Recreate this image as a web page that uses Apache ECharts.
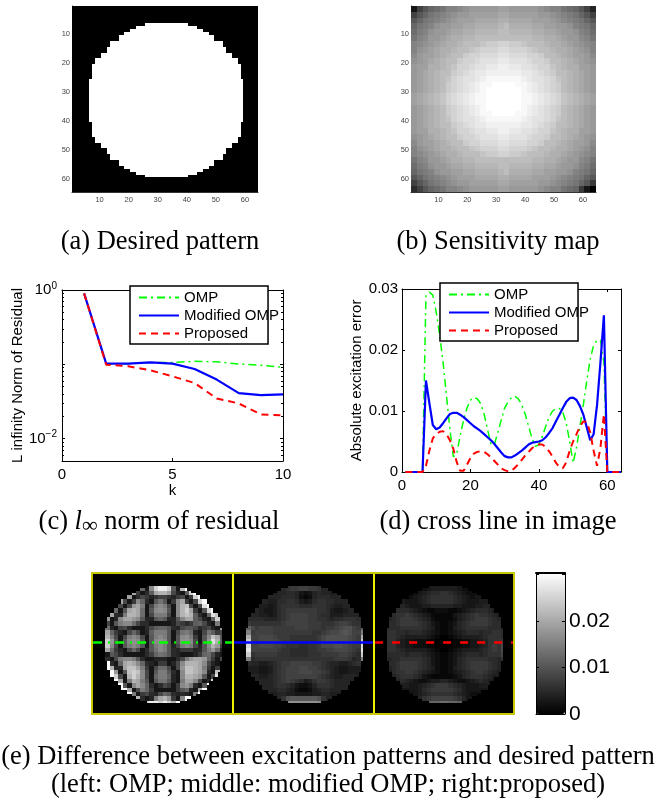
<!DOCTYPE html>
<html><head><meta charset="utf-8">
<script src="https://cdn.jsdelivr.net/npm/echarts@6/dist/echarts.min.js"></script>
<style>html,body{margin:0;padding:0;background:#fff}#c{width:657px;height:803px}</style></head>
<body><div id="c"></div>
<script>
// ---------- data ----------
const seriesNames = ['OMP', 'Modified OMP', 'Proposed'];
const kValues = [1,2,3,4,5,6,7,8,9,10];
const residualOmp = [.90,.102,.102,.106,.106,.1097,.108,.101,.097,.091];
const residualMod = [.90,.102,.102,.106,.102,.0866,.0623,.0409,.0385,.0393];
const residualPro = [.90,.099,.094,.083,.069,.056,.0347,.0297,.0212,.0205];

const crossX = [1,2,3,4,5,6,7,8,9,10,11,12,13,14,15,16,17,18,19,20,21,22,23,24,25,26,27,28,29,30,31,32,33,34,35,36,37,38,39,40,41,42,43,44,45,46,47,48,49,50,51,52,53,54,55,56,57,58,59,60,61,62,63,64];
const crossOmp = [0,0,0,0,0,0,.029,.0295,.029,.0262,.0225,.018,.0125,.007,.0025,.003,.006,.0085,.0105,.0118,.0122,.012,.0112,.0095,.007,.0045,.0045,.0065,.0085,.0105,.0115,.0122,.0124,.012,.011,.0095,.0075,.0055,.0042,.0045,.0058,.0075,.009,.01,.0104,.0104,.0098,.008,.005,.0015,.004,.0075,.011,.015,.0185,.0208,.0216,.0216,.018,0,0,0,0,0];
const crossMod = [0,0,0,0,0,0,.015,.0113,.0077,.007,.0073,.008,.0088,.0095,.0097,.0097,.0094,.009,.0085,.008,.0075,.0071,.0067,.0062,.0057,.0052,.0046,.0039,.0032,.0026,.0024,.0024,.0027,.0031,.0035,.004,.0045,.0048,.0049,.005,.0052,.0057,.0064,.0072,.0083,.0094,.0105,.0115,.0121,.0122,.0118,.0108,.0094,.0073,.0052,.0062,.011,.018,.0257,0,0,0,0,0];
const crossPro = [0,0,0,0,0,0,.001,.0035,.0055,.0062,.0066,.0067,.0062,.0052,.0038,.0016,.0002,.0002,.0012,.0023,.003,.0033,.0034,.0033,.0029,.0024,.0018,.0012,.0006,.0003,.0001,.0002,.0007,.0013,.002,.0027,.0033,.0039,.0043,.0045,.0045,.0041,.0034,.0025,.0015,.0008,.0006,.0016,.0035,.005,.0062,.0075,.0083,.0082,.0065,.0035,.001,.004,.0095,0,0,0,0,0];

const imageCells = [1,2,3,4,5,6,7,8,9,10,11,12,13,14,15,16,17,18,19,20,21,22,23,24,25,26,27,28,29,30,31,32,33,34,35,36,37,38,39,40,41,42,43,44,45,46,47,48,49,50,51,52,53,54,55,56,57,58,59,60,61,62,63,64];

// first and last white cell per image row of the desired pattern (row 7 to row 59)
const desiredFirst = [25,22,20,18,16,16,13,13,12,12,10,10,8,8,7,7,7,7,7,6,6,6,6,6,6,6,6,6,6,6,6,6,6,6,7,7,7,7,7,8,8,10,10,12,12,13,13,16,16,18,20,22,25];
const desiredLast  = [39,42,44,46,48,48,51,51,52,52,54,54,56,56,57,57,57,57,57,58,58,58,58,58,58,58,58,58,58,58,58,58,58,58,57,57,57,57,57,56,56,54,54,52,52,51,51,48,48,46,44,42,39];
const desiredStartRow = 6;

// grey levels in base 36 (0 black … z white); each character covers 2×2 image cells
const sensitivityRows = [
'39cefgiijklllllmmlllllkjiigfec95','9ceghijkllmmmmmnnmmmmmllkjihgec9','ceghijklmmmnnnnoonnnnmmmlkjihgec','eghikllmmnnoooopqoooonnmmllkihge',
'fhikllmnnooppppqqppppoonnmllkihf','gijllmnooppqqqqqqqqqqppoonmlljig','ijklmnoopqqqrssttssrqqqpoonmlkji','iklmnoopqqrstttuutttsrqqpoonmlki',
'jlmmnopqqsttuuuvvuuuttsqqponmmlj','klmnopqqsttuvvvwwvvvuttsqqponmlk','lmmoopqrttuvvwwxxwwvvuttrqpoomml','lmnopqqstuvwwxxxxxxwwvutsqqponml',
'lmnopqrtuvvwxyyyyyyxwvvutrqponml','lmnopqstuvwxyyzzzzyyxwvutsqponml','lmnopqstuvwxyzzzzzzyxwvutsqponml','mnopqrtuvwxyyzzzzzzyyxwvutrqponm',
'mnopqrtuvwxyyzzzzzzyyxwvutrqponm','lmnopqstuvwxyzzzzzzyxwvutsqponml','lmnopqstuvwxyyzzzzyyxwvutsqponml','lmnopqrtuvvwxyyyyyyxwvvutrqponml',
'lmnopqqstuvwwxxxxxxwwvutsqqponml','lmmoopqrttuvvwwxxwwvvuttrqpoomml','klmnopqqsttuvvvwwvvvuttsqqponmlk','jlmmnopqqsttuuuvvuuuttsqqponmmlj',
'iklmnoopqqrstttuutttsrqqpoonmlki','ijklmnoopqqqrssttssrqqqpoonmlkji','gijllmnooppqqqqqqqqqqppoonmlljig','fhikllmnnooppppqqppppoonnmllkihf',
'eghikllmmnnoooopqoooonnmmllkihge','ceghijklmmmnnnnoonnnnmmmlkjihgec','9ceghijkllmmmmmnnmmmmmllkjihgec8','69cefgiijklllllmmlllllkjiigfe830'];

const zeroRow = '00000000 00000000 00000000 00000000';
const errorOmpRows = [zeroRow,zeroRow,zeroRow,
'00000000 hlpe3jtx xtc3pzzt 00000000','0000005p rn836dnp pma53dtz zzr00000','00000prr m36a8579 97 58a38t zzzt0000',
'0000prna 38je63cg c38jn83a tzzzz000','000nrpa3 alnh3ahj ha3jpra3 avzzp000','000lpe3c npnf3cjk jc3jptn8 3ctzv000',
'000jn65h ppnf3ahh ha3jprpd 63evr000','00hl35jn nljc55ce c55cjnnd a53et000','00ja3chj jfa66333 335a868d ea53h000',
'00nf539a 63336ade ec65acca 68a53l00','00pne853 aea35dhh hc3aghf5 3agd8a00','00tpha3a hjha3chj hc3cjkh8 3cjrnc00',
'00xtlc3c jkjc3cjk jc3ckkja 3clvpd00','00vtja3c hjhc3chj hc5ahjha 5cjpl900','00pnf853 aea36cgj hc658885 6chlf500',
'00j3ca63 333369eg fc653335 8efa5300','00p63ahj jhc63355 5336ahln nle83a00','000z63en pnje6538 835ajppp nja53t00',
'000zp55n rrnh83af fa3alrrp nh838t00','0000zl3c rtrja3ch hc63jrrp nj53rz00','0000zta3 ptpja3eh he53jppn lc3avz00',
'00000zn3 hpnhc3cg gc53hnnj a35tz000','00000zzc 3jnje636 a838jlh6 3czz0000','000000zz n3ahe833 3338ce53 nzz00000',
'0000000z zh38a65a ec65653h zzz00000','00000000 zzp635hn pl83jzzz z0000000','00000000 00zptxxt xtpz0000 00000000',zeroRow,zeroRow];
const errorModRows = [zeroRow,zeroRow,zeroRow,
'00000000 55567889 98875555 00000000','00000044 44556653 23565544 44000000','00000455 55566652 12566655 55400000',
'00004555 44667764 34677665 55540000','00045544 34677776 66777654 45554000','00055543 34678888 88877643 34555000',
'00455544 34678999 98876644 45555400','00566665 55678999 98877656 67776600','00987777 77789999 98887778 99877900',
'000da899 98888899 98887889 abb98d00','000i8999 98888888 88778 9aa bcb99h00','000o99aa a9888777 7778abbb bba98o00',
'000s99aa aa988777 7778abbb bba98s00','000u99aa a9987776 6778aaab ba988u00','000w9999 99877666 67788 99a aa987w00',
'000s7888 88777666 67778888 99876s00','000i6777 77777777 77777778 88756i00','00765544 56788999 99887655 44567000',
'00044433 4678999a a9987654 33444000','00044433 4678999a aa998754 33444000','00055544 56789999 99987654 45554000',
'00005555 56789876 45788765 55550000','00000555 56776532 23577765 55500000','00000055 55665421 12456655 55000000',
'00000004 44554433 33445544 40000000','00000000 4557bccc cccb7554 00000000','00000000 0000jkkk kkkj0000 00000000',zeroRow,zeroRow];
const errorProRows = [zeroRow,zeroRow,zeroRow,
'00000000 22223444 44432222 00000000','00000222 22345667 76543222 22200000','00003333 23456777 77654323 33330000',
'00034443 33456777 77654333 44443000','00044554 33344555 55443334 45544000','00045666 54321122 21123456 66544000',
'00356778 76543111 11345678 77654300','00456788 87654211 11245678 88765400','00466788 88765321 12356788 88766400',
'00566677 77765421 12456777 77666500','00677665 66654321 12345666 56677600','00777654 44443210 01234444 56777600',
'00777543 32221100 00112233 45777800','00777543 32221100 00112233 45787a00','00777654 44443210 01234444 56787a00',
'00566665 66654321 12345666 56777900','00456677 77765321 12356777 77665700','00366788 88765321 12356788 88765500',
'00356788 88765421 12456788 88765400','00046778 87654321 12345678 87654000','00045677 76532111 11235677 76544000',
'00034565 43223445 54322345 65430000','00003444 33456788 87654333 44430000','00000333 33467888 88764333 33300000',
'00000022 23456777 77654322 20000000','00000000 33578999 99875333 00000000','00000000 0000deef feed0000 00000000',zeroRow,zeroRow];

const crossRowIndex = 31;
const colourbarMax = 0.0303;
const levelTop = 35;
const errorAtLevelTop = 0.03;

// ---------- helpers ----------
function inDesired(x,y){
  const r = y-desiredStartRow;
  return r>=0 && r<desiredLast.length && x>=desiredFirst[r] && x<=desiredLast[r];
}
function desiredData(){
  const out=[];
  for(let y=0;y<64;y++)for(let x=0;x<64;x++)out.push([x,y,inDesired(x,y)?1:0]);
  return out;
}
function levelData(rows,scale,masked){
  const clean=rows.map(r=>r.replace(/ /g,''));
  const out=[];
  for(let y=0;y<64;y++)for(let x=0;x<64;x++){
    const v=parseInt(clean[y>>1][x>>1]||'0',36)/levelTop*scale;
    out.push([x,y,masked&&!inDesired(x,y)?0:v]);
  }
  return out;
}
function cellItem(params,api){
  const c=api.coord([api.value(0),api.value(1)]), s=api.size([1,1]);
  const x0=Math.round(c[0]-s[0]/2), x1=Math.round(c[0]+s[0]/2), y0=Math.round(c[1]-s[1]/2), y1=Math.round(c[1]+s[1]/2);
  return {type:'rect',shape:{x:x0,y:y0,width:x1-x0,height:y1-y0},style:{fill:api.visual('color')}};
}
function cellSeries(xi,yi,data){
  return {type:'custom',coordinateSystem:'cartesian2d',xAxisIndex:xi,yAxisIndex:yi,data,renderItem:cellItem,
    encode:{x:0,y:1},progressive:0,silent:true};
}
const sans='"Liberation Sans"', serif='"Liberation Serif"';
const grids=[], xAxes=[], yAxes=[], series=[];
function grid(left,top,width,height,extra){grids.push(Object.assign({left,top,width,height,containLabel:false},extra||{}));return grids.length-1;}
function X(o){xAxes.push(o);return xAxes.length-1;}
function Y(o){yAxes.push(o);return yAxes.length-1;}
const none={show:false};

// image axes for (a) and (b)
function imageAxes(g){
  const tenth=(i,val)=>Number(val)%10===0;
  const common={type:'category',data:imageCells,gridIndex:g,splitLine:none,
    axisLine:{show:true,onZero:false,lineStyle:{color:'#333',width:1}},
    axisTick:{show:true,inside:true,length:2,alignWithLabel:true,interval:tenth,lineStyle:{color:'#555'}}};
  const label={show:true,interval:tenth,fontFamily:sans,fontSize:7.5,color:'#444'};
  return [X(Object.assign({},common,{position:'bottom',axisLabel:Object.assign({margin:4},label)})),
          Y(Object.assign({},common,{position:'left',inverse:true,axisLabel:Object.assign({margin:2},label)}))];
}
function imageSeries(g,data){
  const a=imageAxes(g);
  series.push(cellSeries(a[0],a[1],data));
  return series.length-1;
}
const greyA=imageSeries(grid(72,6,186,186),desiredData());
const greyB=imageSeries(grid(411,6,185,186),levelData(sensitivityRows,1,false));

// line axes
function frameTick(){return {show:true,inside:true,length:3,lineStyle:{color:'#000'}};}
function lineAxes(g,xOpt,yOpt){
  const axisLine={show:true,onZero:false,lineStyle:{color:'#000',width:1}};
  const xi=X(Object.assign({gridIndex:g,type:'value',position:'bottom',splitLine:none,axisLine,axisTick:frameTick(),
    axisLabel:{fontFamily:sans,fontSize:15,color:'#000',margin:6}},xOpt));
  X(Object.assign({},xOpt,{gridIndex:g,type:'value',position:'top',name:'',splitLine:none,axisLine,axisTick:frameTick(),axisLabel:none}));
  const yi=Y(Object.assign({gridIndex:g,position:'left',splitLine:none,axisLine,axisTick:frameTick(),
    axisLabel:{fontFamily:sans,fontSize:15,color:'#000',margin:4}},yOpt));
  Y(Object.assign({},yOpt,{gridIndex:g,position:'right',name:'',splitLine:none,axisLine,axisTick:frameTick(),axisLabel:none}));
  return [xi,yi];
}
const styles=[
  {color:'#00ff00',lineStyle:{color:'#00ff00',width:1.5,type:[8,4,2,4]}},
  {color:'#0000ff',lineStyle:{color:'#0000ff',width:2.2,type:'solid'}},
  {color:'#ff0000',lineStyle:{color:'#ff0000',width:2,type:[7,5]}}
];
function addLines(ax,xs,lists,clip){
  lists.forEach((vals,i)=>series.push(Object.assign({type:'line',name:seriesNames[i],xAxisIndex:ax[0],yAxisIndex:ax[1],
    symbol:'none',silent:true,clip,data:xs.map((x,j)=>[x,vals[j]])},styles[i])));
}
const gc=grid(62,290,221,171);
addLines(lineAxes(gc,
  {min:0,max:10,interval:5,name:'k',nameLocation:'middle',nameGap:21,nameTextStyle:{fontFamily:sans,fontSize:15,color:'#000'}},
  {type:'log',logBase:10,min:0.005,max:1,name:'L infinity Norm of Residual',nameLocation:'middle',nameGap:36,
   nameTextStyle:{fontFamily:sans,fontSize:15,color:'#000'},
   minorTick:{show:true,splitNumber:9,length:2,lineStyle:{color:'#000'}},
   axisLabel:{fontFamily:sans,fontSize:15,color:'#000',margin:5,
     formatter:v=>{const e=Math.round(Math.log10(v));return Math.abs(Math.log10(v)-e)>1e-6||(e!==0&&e!==-2)?'':'{b|10}{s|'+(e===0?'0':'\u22122')+'}';},
     rich:{b:{fontFamily:sans,fontSize:15,color:'#000'},s:{fontFamily:sans,fontSize:10,color:'#000',padding:[0,0,8,0]}}}}),
  kValues,[residualOmp,residualMod,residualPro],true);

const gd=grid(402,289,219,183);
addLines(lineAxes(gd,
  {min:0,max:64,interval:20},
  {type:'value',min:0,max:0.03,interval:0.01,name:'Absolute excitation error',nameLocation:'middle',nameGap:38,
   nameTextStyle:{fontFamily:sans,fontSize:15,color:'#000'}}),
  crossX,[crossOmp,crossMod,crossPro],false);

// panels of (e)
const panelLefts=[92,233,374];
const panelSets=[errorOmpRows,errorModRows,errorProRows];
const errorSeries=[];
panelLefts.forEach((left,i)=>{
  const g=grid(left,573,i===2?140:141,141);
  const yellow={color:'#c8c800',width:2}, bright={color:'#ffff00',width:1.5};
  const catX={type:'category',data:imageCells,gridIndex:g,z:10,axisTick:none,axisLabel:none,splitLine:none};
  const xi=X(Object.assign({},catX,{position:'bottom',axisLine:{show:true,onZero:false,lineStyle:yellow}}));
  X(Object.assign({},catX,{position:'top',axisLine:{show:true,onZero:false,lineStyle:yellow}}));
  const yi=Y(Object.assign({},catX,{position:'left',inverse:true,axisLine:{show:true,onZero:false,lineStyle:i===0?yellow:bright}}));
  Y(Object.assign({},catX,{position:'right',inverse:true,axisLine:{show:true,onZero:false,lineStyle:i===2?yellow:bright}}));
  series.push(cellSeries(xi,yi,levelData(panelSets[i],errorAtLevelTop,true)));
  errorSeries.push(series.length-1);
  series.push({type:'line',xAxisIndex:xi,yAxisIndex:yi,symbol:'none',silent:true,z:6,
    data:[[0,crossRowIndex],[63,crossRowIndex]],
    lineStyle:{color:styles[i].color,width:2.5,type:i===0?[9,6,2,5]:i===1?'solid':[8,9]}});
});

// colour bar frame and labels
const gb=grid(536,573,29,141);
const blackLine={show:true,onZero:false,lineStyle:{color:'#000',width:1}};
X({gridIndex:gb,type:'value',position:'bottom',min:0,max:1,z:10,axisLine:blackLine,axisTick:none,axisLabel:none,splitLine:none});
X({gridIndex:gb,type:'value',position:'top',min:0,max:1,z:10,axisLine:{show:true,onZero:false,lineStyle:{color:'#000',width:2}},axisTick:none,axisLabel:none,splitLine:none});
Y({gridIndex:gb,type:'value',position:'right',min:0,max:colourbarMax,interval:0.01,z:10,axisLine:blackLine,
  axisTick:{show:true,inside:true,length:3,lineStyle:{color:'#000'}},splitLine:none,
  axisLabel:{fontFamily:sans,fontSize:21,color:'#000',margin:4,padding:[3,0,0,0],formatter:v=>v>0.025?'':(v===0?'0':v.toFixed(2))}});
Y({gridIndex:gb,type:'value',position:'left',min:0,max:colourbarMax,interval:0.01,z:10,axisLine:blackLine,
  axisTick:{show:true,inside:true,length:3,lineStyle:{color:'#000'}},axisLabel:none,splitLine:none});

function caption(x,y,text,rich){
  return {type:'text',x,y,silent:true,style:{text,rich,textAlign:'center',textVerticalAlign:'middle',
    fontFamily:serif,fontSize:26.5,fill:'#000'}};
}
function legend(left,top){
  return {data:seriesNames,orient:'vertical',left,top,padding:[4,-11,3,8],itemWidth:40,itemHeight:14,itemGap:3,
    selectedMode:false,backgroundColor:'#fff',borderColor:'#000',borderWidth:1.5,
    itemStyle:{opacity:0},
    textStyle:{fontFamily:sans,fontSize:15,color:'#000'}};
}

const chart=echarts.init(document.getElementById('c'),null,{renderer:'canvas'});
chart.setOption({
  animation:false,
  backgroundColor:'#fff',
  grid:grids,xAxis:xAxes,yAxis:yAxes,series,
  legend:[legend(130,286),legend(440,283)],
  visualMap:[
    {show:false,type:'continuous',seriesIndex:[greyA,greyB],dimension:2,min:0,max:1,inRange:{color:['#000','#fff']}},
    {show:true,type:'continuous',seriesIndex:errorSeries,dimension:2,min:0,max:colourbarMax,left:536,top:573,padding:0,
     itemWidth:29,itemHeight:141,text:null,calculable:false,hoverLink:false,realtime:false,
     inRange:{color:['#000','#fff']}}
  ],
  graphic:[
    caption(160,242,'(a) Desired pattern'),
    caption(498,242,'(b) Sensitivity map'),
    caption(159,522,'(c) {i|l}{s|\u221e} norm of residual',{
      i:{fontFamily:serif,fontSize:26.5,fontStyle:'italic',color:'#000'},
      s:{fontFamily:serif,fontSize:22,color:'#000',padding:[8,0,0,0]}}),
    caption(498,522,'(d) cross line in image'),
    caption(328,757,'(e) Difference between excitation patterns and desired pattern'),
    caption(328,785,'(left: OMP; middle: modified OMP; right:proposed)')
  ]
});
</script></body></html>
